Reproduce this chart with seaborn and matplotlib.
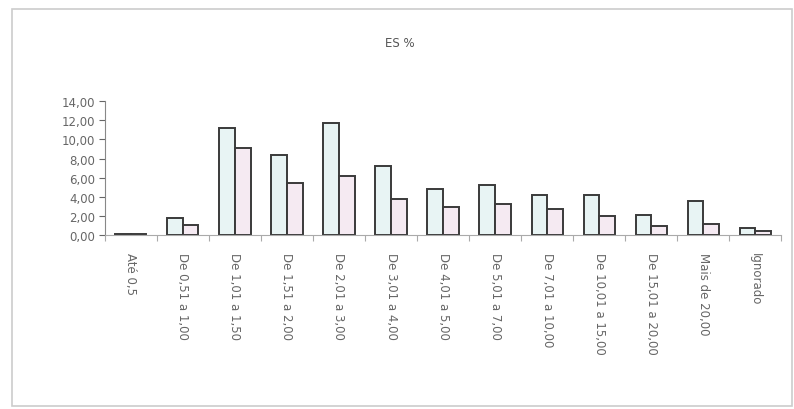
import numpy as np
import pandas as pd
import matplotlib
matplotlib.use('Agg')
import matplotlib.pyplot as plt
import matplotlib.ticker as ticker
from matplotlib.patches import Rectangle
import seaborn as sns

categories = ['Até 0,5', 'De 0,51 a 1,00', 'De 1,01 a 1,50', 'De 1,51 a 2,00',
              'De 2,01 a 3,00', 'De 3,01 a 4,00', 'De 4,01 a 5,00', 'De 5,01 a 7,00',
              'De 7,01 a 10,00', 'De 10,01 a 15,00', 'De 15,01 a 20,00',
              'Mais de 20,00', 'Ignorado']
serie_a = [0.10, 1.80, 11.15, 8.35, 11.70, 7.25, 4.85, 5.25, 4.15, 4.20, 2.15, 3.55, 0.75]
serie_b = [0.08, 1.05, 9.10, 5.40, 6.15, 3.80, 2.95, 3.30, 2.70, 2.00, 1.00, 1.20, 0.45]
yticks = [0, 2, 4, 6, 8, 10, 12, 14]

df = pd.DataFrame({
    'faixa': categories * 2,
    'valor': serie_a + serie_b,
    'serie': ['A'] * len(categories) + ['B'] * len(categories),
})

sns.set_style('white')
plt.rcParams['font.family'] = ['DejaVu Sans']

fig = plt.figure(figsize=(7.94, 4.10), dpi=100)
ax = fig.add_axes([0.132, 0.424, 0.852, 0.327])

sns.barplot(data=df, x='faixa', y='valor', hue='serie', order=categories,
            palette=['#e6f6f6', '#f7e8f3'], edgecolor='#3a3a3a', linewidth=1.4,
            width=0.6, legend=False, ax=ax)

ax.set_ylim(0, 14)
ax.set_xlim(-0.5, len(categories) - 0.5)
ax.set_yticks(yticks)
ax.yaxis.set_major_formatter(ticker.FuncFormatter(lambda v, p: f'{v:.2f}'.replace('.', ',')))
ax.set_xlabel('')
ax.set_ylabel('')
ax.set_xticks(range(len(categories)))
ax.set_xticklabels(categories, rotation=270, va='top', ha='center')
ax.set_xticks(np.arange(-0.5, len(categories), 1), minor=True)

ax.tick_params(axis='y', labelsize=8.5, colors='#666666', length=4, width=0.8,
               direction='out', left=True, pad=3)
ax.tick_params(axis='x', which='major', labelsize=8.5, colors='#666666', length=0, pad=12)
ax.tick_params(axis='x', which='minor', length=4, width=0.8, color='#aaaaaa', bottom=True)

for s in ['top', 'right']:
    ax.spines[s].set_visible(False)
ax.spines['left'].set_color('#888888')
ax.spines['bottom'].set_color('#aaaaaa')
ax.spines['left'].set_linewidth(0.8)
ax.spines['bottom'].set_linewidth(0.8)

fig.text(0.504, 0.895, 'ES %', ha='center', va='center', fontsize=8.5, color='#555555')

fig.patches.append(Rectangle((12 / 794, 3 / 410), 780 / 794, 397 / 410,
                             transform=fig.transFigure, fill=False,
                             edgecolor='#cccccc', linewidth=1.2))

fig.savefig('out.png', dpi=100)
